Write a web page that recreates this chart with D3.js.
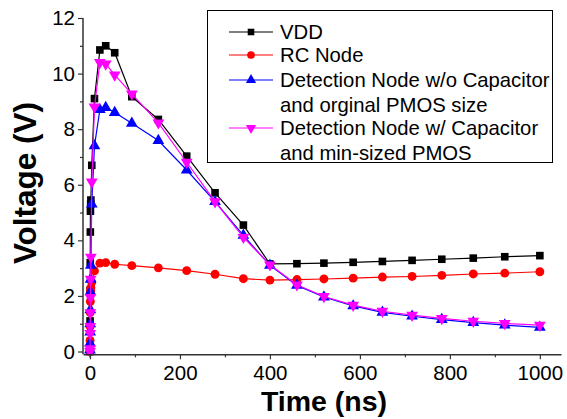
<!DOCTYPE html>
<html><head><meta charset="utf-8">
<script src="https://cdn.jsdelivr.net/npm/d3@7"></script>
<style>html,body{margin:0;padding:0;background:#fff;}svg{display:block;font-family:"Liberation Sans",Arial,sans-serif;}</style>
</head><body>
<svg id="c" width="567" height="419"></svg>
<script>
const time = [0, 0.2, 0.4, 0.6, 0.8, 1, 1.5, 2, 4, 10, 22, 35, 55, 93, 152, 215, 278, 341, 400, 460, 520, 585, 650, 716, 782, 852, 922, 1000];
const vdd = [0, 1.1, 2.2, 3.2, 4.3, 5.05, 5.3, 5.45, 6.7, 9.1, 10.85, 11.0, 10.75, 9.17, 8.35, 7.03, 5.71, 4.55, 3.15, 3.16, 3.18, 3.21, 3.24, 3.28, 3.32, 3.36, 3.41, 3.45];
const rcNode = [0, 0.4, 0.9, 1.4, 1.8, 2.1, 2.2, 2.3, 2.5, 2.9, 3.18, 3.2, 3.14, 3.09, 3.01, 2.91, 2.78, 2.62, 2.57, 2.59, 2.61, 2.64, 2.68, 2.7, 2.74, 2.79, 2.82, 2.87];
const detNoCap = [0.05, 0.3, 0.7, 1.0, 1.5, 2.15, 2.6, 3.1, 5.3, 7.4, 8.7, 8.78, 8.6, 8.21, 7.59, 6.53, 5.39, 4.18, 3.1, 2.38, 1.96, 1.64, 1.41, 1.27, 1.15, 1.04, 0.95, 0.87];
const detCap = [0, 0.1, 0.65, 0.9, 1.4, 1.95, 2.6, 3.4, 6.1, 8.8, 10.4, 10.35, 9.95, 9.27, 8.23, 6.81, 5.39, 4.11, 3.12, 2.4, 1.98, 1.67, 1.45, 1.31, 1.19, 1.09, 1.01, 0.95];
const seriesNames = ["VDD", "RC Node", "Detection Node w/o Capacitor|and orginal PMOS size", "Detection Node w/ Capacitor|and min-sized PMOS"];
const seriesColors = ["#000000", "#ff0000", "#0000ff", "#ff00ff"];
const seriesSymbols = ["square", "circle", "triUp", "triDown"];
const xTicks = [0, 200, 400, 600, 800, 1000];
const yTicks = [0, 2, 4, 6, 8, 10, 12];
const xLabel = "Time (ns)";
const yLabel = "Voltage (V)";

const seriesValues = [vdd, rcNode, detNoCap, detCap];
const svg = d3.select("#c");
const x = d3.scaleLinear().domain([-15.5, 1047]).range([83, 561]);
const y = d3.scaleLinear().domain([-0.1, 12]).range([354.3, 18]);

const symMap = {square: d3.symbolSquare, circle: d3.symbolCircle, triUp: d3.symbolTriangle, triDown: d3.symbolTriangle};
const symSize = {square: 58, circle: 62, triUp: 60, triDown: 60};
function drawSym(g, type, cx, cy, color, scale=1) {
  g.append("path")
    .attr("d", d3.symbol().type(symMap[type]).size(symSize[type]*scale)())
    .attr("transform", `translate(${cx},${cy})` + (type === "triDown" ? " rotate(180)" : ""))
    .attr("fill", color);
}

// series
const plot = svg.append("g");
seriesValues.forEach((vals, i) => {
  const pts = time.map((t, k) => [t, vals[k]]);
  plot.append("path").datum(pts)
    .attr("d", d3.line().x(d => x(d[0])).y(d => y(d[1])))
    .attr("fill", "none").attr("stroke", seriesColors[i]).attr("stroke-width", 1.2);
  const g = plot.append("g");
  pts.forEach(p => drawSym(g, seriesSymbols[i], x(p[0]), y(p[1]), seriesColors[i]));
});

// axes
const axisColor = "#333";
svg.append("g").attr("transform", "translate(0,354.3)")
  .call(d3.axisBottom(x).tickValues(xTicks).tickFormat(d3.format("d")).tickSize(5).tickSizeOuter(0).tickPadding(6));
svg.append("g").attr("transform", "translate(0,354.3)")
  .call(d3.axisBottom(x).tickValues([100,300,500,700,900]).tickSize(3).tickSizeOuter(0).tickFormat(""))
  .call(g => g.select(".domain").remove());
const yAxis = svg.append("g").attr("transform", "translate(83,0)")
  .call(d3.axisLeft(y).tickValues(yTicks).tickFormat(d3.format("d")).tickSize(5).tickSizeOuter(0).tickPadding(3));
svg.append("g").attr("transform", "translate(83,0)")
  .call(d3.axisLeft(y).tickValues([1,3,5,7,9,11]).tickSize(3).tickSizeOuter(0).tickFormat(""))
  .call(g => g.select(".domain").remove());
svg.selectAll(".domain").attr("stroke", axisColor).attr("stroke-width", 1.5);
svg.selectAll(".tick line").attr("stroke", axisColor).attr("stroke-width", 1.2);
svg.selectAll(".tick text").attr("font-size", 20.5).attr("fill", "#000").attr("font-family", "Liberation Sans, Arial, sans-serif");
yAxis.select(".domain").attr("d", `M0,${y(12)}V${y(-0.1)}`);

// axis titles
svg.append("text").attr("x", 324).attr("y", 411).attr("text-anchor", "middle")
  .attr("font-size", 28.5).attr("font-weight", "bold").text(xLabel);
svg.append("text").attr("transform", "translate(36,183) rotate(-90)").attr("text-anchor", "middle")
  .attr("font-size", 31.5).attr("font-weight", "bold").text(yLabel);

// legend
const lg = svg.append("g");
lg.append("rect").attr("x", 207.5).attr("y", 10.5).attr("width", 345).attr("height", 152)
  .attr("fill", "#fff").attr("stroke", "#000").attr("stroke-width", 1);
const rowY = [32, 55, 80, 128];
seriesNames.forEach((name, i) => {
  const cy = rowY[i];
  lg.append("line").attr("x1", 229).attr("x2", 273).attr("y1", cy).attr("y2", cy)
    .attr("stroke", seriesColors[i]).attr("stroke-width", 1.2);
  drawSym(lg, seriesSymbols[i], 251, cy, seriesColors[i], 0.75);
  name.split("|").forEach((line, j) => {
    lg.append("text").attr("x", 280).attr("y", cy + 7 + j * 24.5)
      .attr("font-size", 20.3).attr("fill", "#000").text(line);
  });
});
</script>
</body></html>
